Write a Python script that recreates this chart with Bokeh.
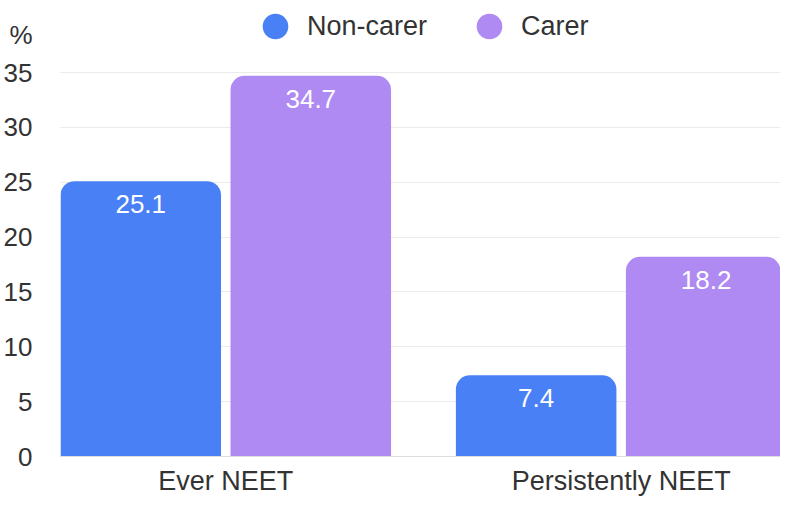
import numpy as np
from bokeh.plotting import figure
from bokeh.models import (ColumnDataSource, Range1d, FixedTicker, LabelSet,
                          Legend, LegendItem)
from bokeh.core.properties import value
from bokeh.embed import file_html
from bokeh.resources import INLINE

categories = ["Ever NEET", "Persistently NEET"]
series_names = ["Non-carer", "Carer"]
non_carer = [25.1, 7.4]
carer = [34.7, 18.2]
y_ticks = [0, 5, 10, 15, 20, 25, 30, 35]
unit_label = "%"

BLUE = "#4a80f5"
PURPLE = "#ae8af2"
FONT = "Liberation Sans"

idx = np.arange(len(categories))
offset = 0.215
bar_w = 0.406

src_nc = ColumnDataSource(dict(x=idx - offset, top=non_carer, label=[f"{v:.1f}" for v in non_carer]))
src_c = ColumnDataSource(dict(x=idx + offset, top=carer, label=[f"{v:.1f}" for v in carer]))

p = figure(width=780, height=498, output_backend="svg", toolbar_location=None,
           x_range=Range1d(-0.418, 1.403), y_range=Range1d(0, 41.57),
           min_border_left=52, min_border_right=0, min_border_top=0, min_border_bottom=34)
p.outline_line_color = None
p.background_fill_color = "white"

p.vbar(x="x", top="top", width=bar_w, source=src_nc, fill_color=BLUE,
       line_color=None, border_radius=(14, 14, 0, 0))
p.vbar(x="x", top="top", width=bar_w, source=src_c, fill_color=PURPLE,
       line_color=None, border_radius=(14, 14, 0, 0))

for src in (src_nc, src_c):
    p.add_layout(LabelSet(x="x", y="top", text="label", source=src, text_align="center",
                          text_baseline="top", y_offset=-14, text_color="white",
                          text_font=value(FONT), text_font_size="26px"))

# legend markers (dummy renderers)
leg_nc = p.scatter(x=[np.nan], y=[np.nan], size=26, fill_color=BLUE, line_color=None)
leg_c = p.scatter(x=[np.nan], y=[np.nan], size=26, fill_color=PURPLE, line_color=None)
legend = Legend(items=[LegendItem(label=series_names[0], renderers=[leg_nc]),
                       LegendItem(label=series_names[1], renderers=[leg_c])],
                orientation="horizontal", location=(183, 398),
                glyph_width=64, glyph_height=64, label_standoff=0, spacing=30,
                padding=0, margin=0, border_line_color=None, background_fill_alpha=0,
                label_text_font=FONT, label_text_font_size="27px", label_text_color="#333333")
p.add_layout(legend, "center")

# y axis (extra top tick carries the unit label "%")
unit_pos = 38.4
p.yaxis.ticker = FixedTicker(ticks=y_ticks + [unit_pos])
p.yaxis.major_label_overrides = {unit_pos: unit_label}
p.yaxis.axis_line_color = None
p.yaxis.major_tick_line_color = None
p.yaxis.minor_tick_line_color = None
p.yaxis.major_label_standoff = 22
p.yaxis.major_label_text_font = FONT
p.yaxis.major_label_text_font_size = "26px"
p.yaxis.major_label_text_color = "#333333"

# x axis
p.xaxis.ticker = FixedTicker(ticks=list(idx))
p.xaxis.major_label_overrides = {int(i): c for i, c in zip(idx, categories)}
p.xaxis.axis_line_color = "#dddddd"
p.xaxis.major_tick_line_color = None
p.xaxis.minor_tick_line_color = None
p.xaxis.major_label_standoff = 3
p.xaxis.major_label_text_font = FONT
p.xaxis.major_label_text_font_size = "27px"
p.xaxis.major_label_text_color = "#333333"

p.xgrid.grid_line_color = None
p.ygrid.ticker = FixedTicker(ticks=y_ticks)
p.ygrid.grid_line_color = "#ebebeb"
p.ygrid.grid_line_width = 1

open("out.html", "w").write(file_html(p, INLINE))
